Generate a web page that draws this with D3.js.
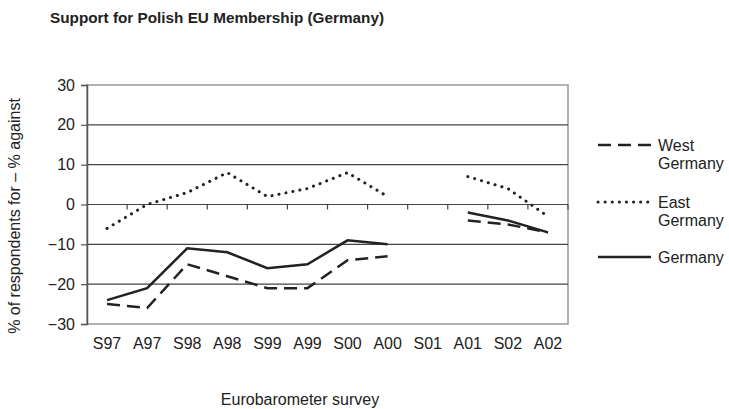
<!DOCTYPE html>
<html>
<head>
<meta charset="utf-8">
<script src="https://cdn.jsdelivr.net/npm/d3@7"></script>
<style>
  body { margin: 0; background: #fff; }
  text { font-family: "Liberation Sans", Arial, sans-serif; fill: #222; }
</style>
</head>
<body>
<svg id="chart" width="729" height="409"></svg>
<script>
const surveys = ["S97", "A97", "S98", "A98", "S99", "A99", "S00", "A00", "S01", "A01", "S02", "A02"];
const westGermany = [-25, -26, -15, -18, -21, -21, -14, -13, null, -4, -5, -7];
const eastGermany = [-6, 0, 3, 8, 2, 4, 8, 2, null, 7, 4, -3];
const germany = [-24, -21, -11, -12, -16, -15, -9, -10, null, -2, -4, -7];
const yTicks = [-30, -20, -10, 0, 10, 20, 30];

const svg = d3.select("#chart");
const plotLeft = 87, plotRight = 568, plotTop = 85, plotBottom = 324;

const x = d3.scaleBand().domain(surveys).range([plotLeft, plotRight]);
const y = d3.scaleLinear().domain([-30, 30]).range([plotBottom, plotTop]);

// title
svg.append("text")
  .attr("x", 50).attr("y", 23)
  .attr("font-size", "15.3px").attr("font-weight", "bold")
  .text("Support for Polish EU Membership (Germany)");

// frame
svg.append("rect")
  .attr("x", plotLeft).attr("y", plotTop)
  .attr("width", plotRight - plotLeft).attr("height", plotBottom - plotTop)
  .attr("fill", "none").attr("stroke", "#999").attr("stroke-width", 1.5);

// gridlines
svg.selectAll("line.grid")
  .data(yTicks.filter(d => d > -30 && d < 30))
  .enter().append("line")
  .attr("class", "grid")
  .attr("x1", plotLeft).attr("x2", plotRight)
  .attr("y1", d => y(d)).attr("y2", d => y(d))
  .attr("stroke", "#444").attr("stroke-width", 1.2);

// y axis
const yAxis = svg.append("g")
  .attr("transform", `translate(${plotLeft},0)`)
  .call(d3.axisLeft(y).tickValues(yTicks).tickSize(6).tickPadding(6)
    .tickFormat(d => d < 0 ? "\u2212" + Math.abs(d) : d));
yAxis.select(".domain").attr("stroke", "#555").attr("stroke-width", 1.5);
yAxis.selectAll(".tick line").attr("stroke", "#555").attr("stroke-width", 1.2);
yAxis.selectAll("text").attr("font-size", "16px").attr("fill", "#222");

// zero line ticks at category boundaries
svg.selectAll("line.zt")
  .data(surveys)
  .enter().append("line")
  .attr("class", "zt")
  .attr("x1", (d, i) => plotLeft + x.step() * (i + 1))
  .attr("x2", (d, i) => plotLeft + x.step() * (i + 1))
  .attr("y1", y(0)).attr("y2", y(0) + 5)
  .attr("stroke", "#444").attr("stroke-width", 1.2);

// x labels
svg.selectAll("text.xl")
  .data(surveys)
  .enter().append("text")
  .attr("class", "xl")
  .attr("x", d => x(d) + x.bandwidth() / 2)
  .attr("y", 349)
  .attr("text-anchor", "middle")
  .attr("font-size", "16px")
  .text(d => d);

// axis titles
svg.append("text")
  .attr("x", 300).attr("y", 405)
  .attr("text-anchor", "middle").attr("font-size", "16px")
  .text("Eurobarometer survey");

svg.append("text")
  .attr("transform", "translate(20,216) rotate(-90)")
  .attr("text-anchor", "middle").attr("font-size", "16px")
  .text("% of respondents for \u2013 % against");

// lines
const styles = {
  west: { dash: "13,7", cap: "butt", width: 2.5 },
  east: { dash: "0.1,7", cap: "round", width: 3 },
  germany: { dash: null, cap: "butt", width: 2.5 }
};
const seriesList = [
  { key: "west", label: ["West", "Germany"], values: westGermany },
  { key: "east", label: ["East", "Germany"], values: eastGermany },
  { key: "germany", label: ["Germany"], values: germany }
];

const line = d3.line()
  .defined(d => d.v !== null)
  .x(d => x(d.s) + x.bandwidth() / 2)
  .y(d => y(d.v));

seriesList.forEach(s => {
  const st = styles[s.key];
  svg.append("path")
    .datum(surveys.map((c, i) => ({ s: c, v: s.values[i] })))
    .attr("d", line)
    .attr("fill", "none")
    .attr("stroke", "#222")
    .attr("stroke-width", st.width)
    .attr("stroke-linecap", st.cap)
    .attr("stroke-dasharray", st.dash);
});

// legend
const legendY = [145, 202, 257];
seriesList.forEach((s, i) => {
  const st = styles[s.key];
  const ly = legendY[i];
  svg.append("line")
    .attr("x1", 598).attr("x2", 651)
    .attr("y1", ly).attr("y2", ly)
    .attr("stroke", "#222")
    .attr("stroke-width", st.width)
    .attr("stroke-linecap", st.cap)
    .attr("stroke-dasharray", st.dash);
  const t = svg.append("text")
    .attr("x", 658).attr("y", ly + 6)
    .attr("font-size", "16px");
  s.label.forEach((l, j) => {
    t.append("tspan").attr("x", 658).attr("dy", j === 0 ? 0 : 18).text(l);
  });
});
</script>
</body>
</html>
